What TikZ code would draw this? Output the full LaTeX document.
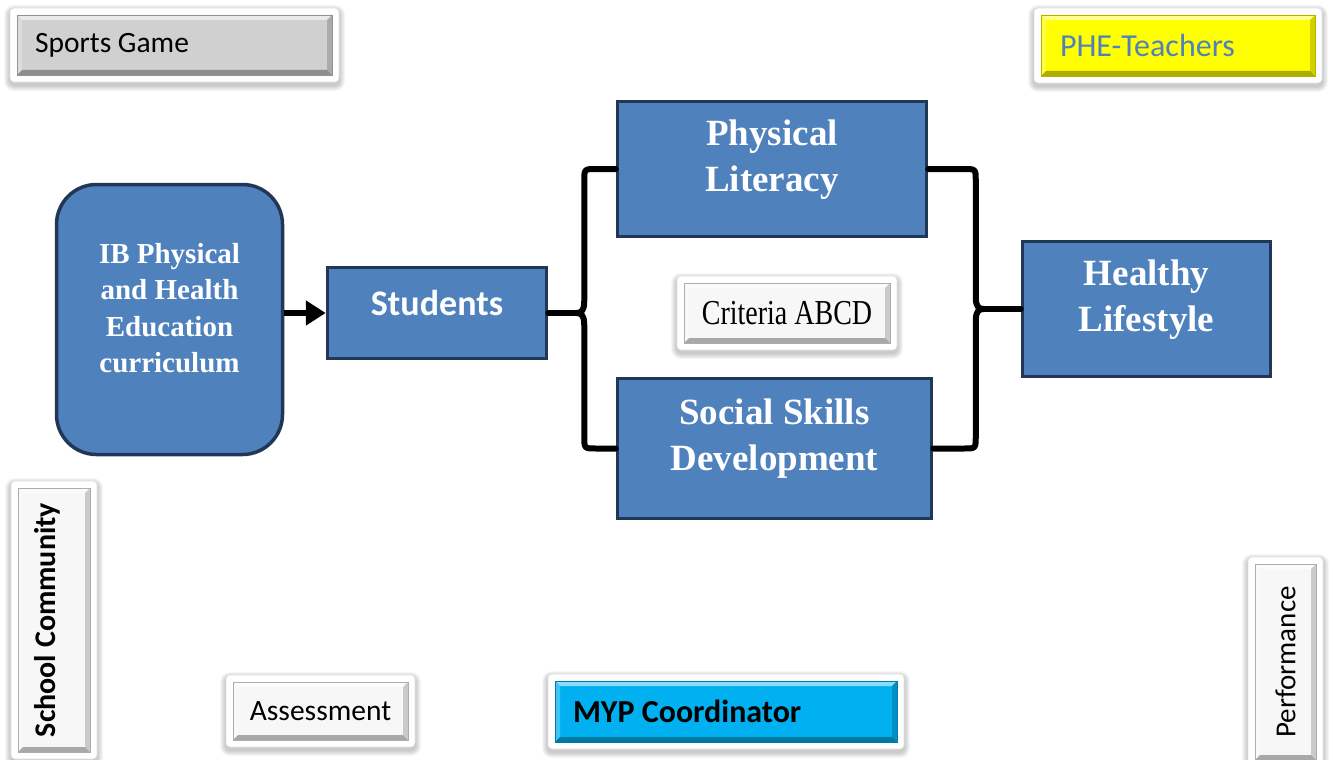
\documentclass[tikz,border=0pt]{standalone}
\usepackage{fontspec}
\usepackage{graphicx}
\setmainfont{Liberation Serif}
\newfontfamily\carlito{Carlito}
\newfontfamily\critfont[FakeStretch=0.80]{Liberation Serif}
\usetikzlibrary{arrows.meta,calc,backgrounds}

\definecolor{boxblue}{RGB}{79,129,189}
\definecolor{boxnavy}{RGB}{33,55,88}
\definecolor{taggray}{RGB}{208,208,208}
\definecolor{tagwhite}{RGB}{247,247,247}
\definecolor{tagyellow}{RGB}{255,255,0}
\definecolor{tagcyan}{RGB}{0,176,240}

% bevelled faces of a tag: light top/left, dark bottom/right
\newcommand\bevelfaces[1]{%
  \fill[#1!45!white] (path picture bounding box.north west) -- (path picture bounding box.north east)
    -- ([xshift=-5pt,yshift=-5pt]path picture bounding box.north east)
    -- ([xshift=5pt,yshift=-5pt]path picture bounding box.north west) -- cycle;
  \fill[#1!75!white] (path picture bounding box.north west) -- (path picture bounding box.south west)
    -- ([xshift=5pt,yshift=5pt]path picture bounding box.south west)
    -- ([xshift=5pt,yshift=-5pt]path picture bounding box.north west) -- cycle;
  \fill[#1!82!black] (path picture bounding box.north east) -- (path picture bounding box.south east)
    -- ([xshift=-5pt,yshift=5pt]path picture bounding box.south east)
    -- ([xshift=-5pt,yshift=-5pt]path picture bounding box.north east) -- cycle;
  \fill[#1!68!black] (path picture bounding box.south west) -- (path picture bounding box.south east)
    -- ([xshift=-5pt,yshift=5pt]path picture bounding box.south east)
    -- ([xshift=5pt,yshift=5pt]path picture bounding box.south west) -- cycle;
}

\tikzset{
  tag/.style={fill=#1, draw=#1!70!black, line width=0.5pt, inner ysep=0pt, inner xsep=0pt,
    outer sep=0pt, path picture={\bevelfaces{#1}}},
  mbox/.style={draw=boxnavy, fill=boxblue, line width=3.5pt, inner sep=0pt},
  mtext/.style={text=white, align=center, font=\bfseries\fontsize{37}{46}\selectfont},
  brace/.style={line width=6pt, line cap=round, line join=round},
}

\begin{document}
\begin{tikzpicture}[x=1pt,y=-1pt]
\useasboundingbox (0,0) rectangle (1333,760);

% tags
\node[tag=taggray, minimum width=315pt, minimum height=60pt,
  font=\carlito\fontsize{29.5}{35}\selectfont] (sg) at (174.5,45)
  {\makebox[279pt][l]{Sports Game}};
\node[tag=tagyellow, minimum width=274pt, minimum height=61pt,
  text=boxblue, font=\carlito\fontsize{32}{37}\selectfont] (phe) at (1178,45.5)
  {\makebox[236pt][l]{PHE-Teachers}};
\node[tag=tagwhite, minimum width=206pt, minimum height=60pt,
  font=\critfont\fontsize{35}{40}\selectfont] (crit) at (787,313) {Criteria ABCD};
\node[tag=tagwhite, minimum width=175pt, minimum height=58pt,
  font=\carlito\fontsize{29.5}{35}\selectfont] (ass) at (320.5,711) {Assessment};
\node[tag=tagcyan, minimum width=342pt, minimum height=61pt,
  font=\carlito\bfseries\fontsize{32}{37}\selectfont] (myp) at (726,711.5)
  {\makebox[306pt][l]{MYP Coordinator}};
\node[tag=tagwhite, minimum width=72pt, minimum height=264pt,
  font=\carlito\bfseries\fontsize{30}{36}\selectfont] (sc) at (54,620)
  {\rotatebox{90}{School Community}\hspace*{14pt}};
\node[tag=tagwhite, minimum width=61pt, minimum height=196pt,
  font=\carlito\fontsize{29}{35}\selectfont] (perf) at (1285.5,662)
  {\rotatebox{90}{Performance}};

% main boxes
\node[mbox, rounded corners=40pt, minimum width=226pt, minimum height=270pt,
  label={[mtext, font=\bfseries\fontsize{29}{36.5}\selectfont, yshift=11.5pt]center:{IB Physical\\and Health\\Education\\curriculum}}]
  (ib) at (169.5,319.5) {};
\node[mbox, minimum width=219pt, minimum height=91pt,
  label={[text=white, font=\carlito\bfseries\fontsize{36}{42}\selectfont, yshift=10pt]center:Students}]
  (st) at (437,313) {};
\node[mbox, minimum width=309pt, minimum height=135pt,
  label={[mtext, yshift=9pt]center:{Physical\\Literacy}}] (pl) at (772,169) {};
\node[mbox, minimum width=314pt, minimum height=140pt,
  label={[mtext, yshift=9.5pt]center:{Social Skills\\Development}}] (ss) at (774.5,448.5) {};
\node[mbox, minimum width=248pt, minimum height=135pt,
  label={[mtext, yshift=9pt]center:{Healthy\\Lifestyle}}] (hl) at (1146.5,309) {};

% connectors
\draw[line width=6pt, -{Triangle[length=20pt,width=24pt]}] (ib.east |- st.west) -- (st.west);

\coordinate (lb) at ($(st.east)+(36,0)$);
\coordinate (rb) at ($(hl.west)+(-45,0)$);
\draw[brace] (pl.west) -- ($(lb|-pl.west)+(12,0)$) .. controls (lb|-pl.west) .. ($(lb|-pl.west)+(0,12)$)
  -- ($(lb)+(0,-12)$) .. controls ($(lb)+(0,-2)$) and ($(lb)+(-3,0)$) .. ($(lb)+(-8,0)$)
  .. controls ($(lb)+(-3,0)$) and ($(lb)+(0,2)$) .. ($(lb)+(0,12)$)
  -- ($(lb|-ss.west)+(0,-12)$) .. controls (lb|-ss.west) .. ($(lb|-ss.west)+(12,0)$) -- (ss.west);
\draw[brace] (st.east) -- ($(lb)+(-8,0)$);
\draw[brace] (pl.east) -- ($(rb|-pl.east)+(-12,0)$) .. controls (rb|-pl.east) .. ($(rb|-pl.east)+(0,12)$)
  -- ($(rb)+(0,-12)$) .. controls ($(rb)+(0,-2)$) and ($(rb)+(3,0)$) .. ($(rb)+(8,0)$)
  .. controls ($(rb)+(3,0)$) and ($(rb)+(0,2)$) .. ($(rb)+(0,12)$)
  -- ($(rb|-ss.east)+(0,-12)$) .. controls (rb|-ss.east) .. ($(rb|-ss.east)+(-12,0)$) -- (ss.east);
\draw[brace] ($(rb)+(8,0)$) -- (hl.west);

% white frames with soft shadows behind the tags
\begin{scope}[on background layer]
  \fill[white] (0,0) rectangle (1333,760);
  \foreach \n in {sg,phe,crit,ass,myp,sc,perf}{
    \foreach \k in {1,...,6}{
      \fill[black, opacity=0.035, rounded corners={(4+\k)*1pt}]
        ([xshift={-(7+\k)*1pt}, yshift={-(7+\k+3)*1pt}]\n.south west)
        rectangle ([xshift={(7+\k)*1pt}, yshift={(7+\k-3)*1pt}]\n.north east);
    }
    \fill[white, draw=black!12, line width=0.6pt, rounded corners=4pt]
      ([shift={(-7pt,-7pt)}]\n.south west) rectangle ([shift={(7pt,7pt)}]\n.north east);
  }
\end{scope}
\end{tikzpicture}
\end{document}
